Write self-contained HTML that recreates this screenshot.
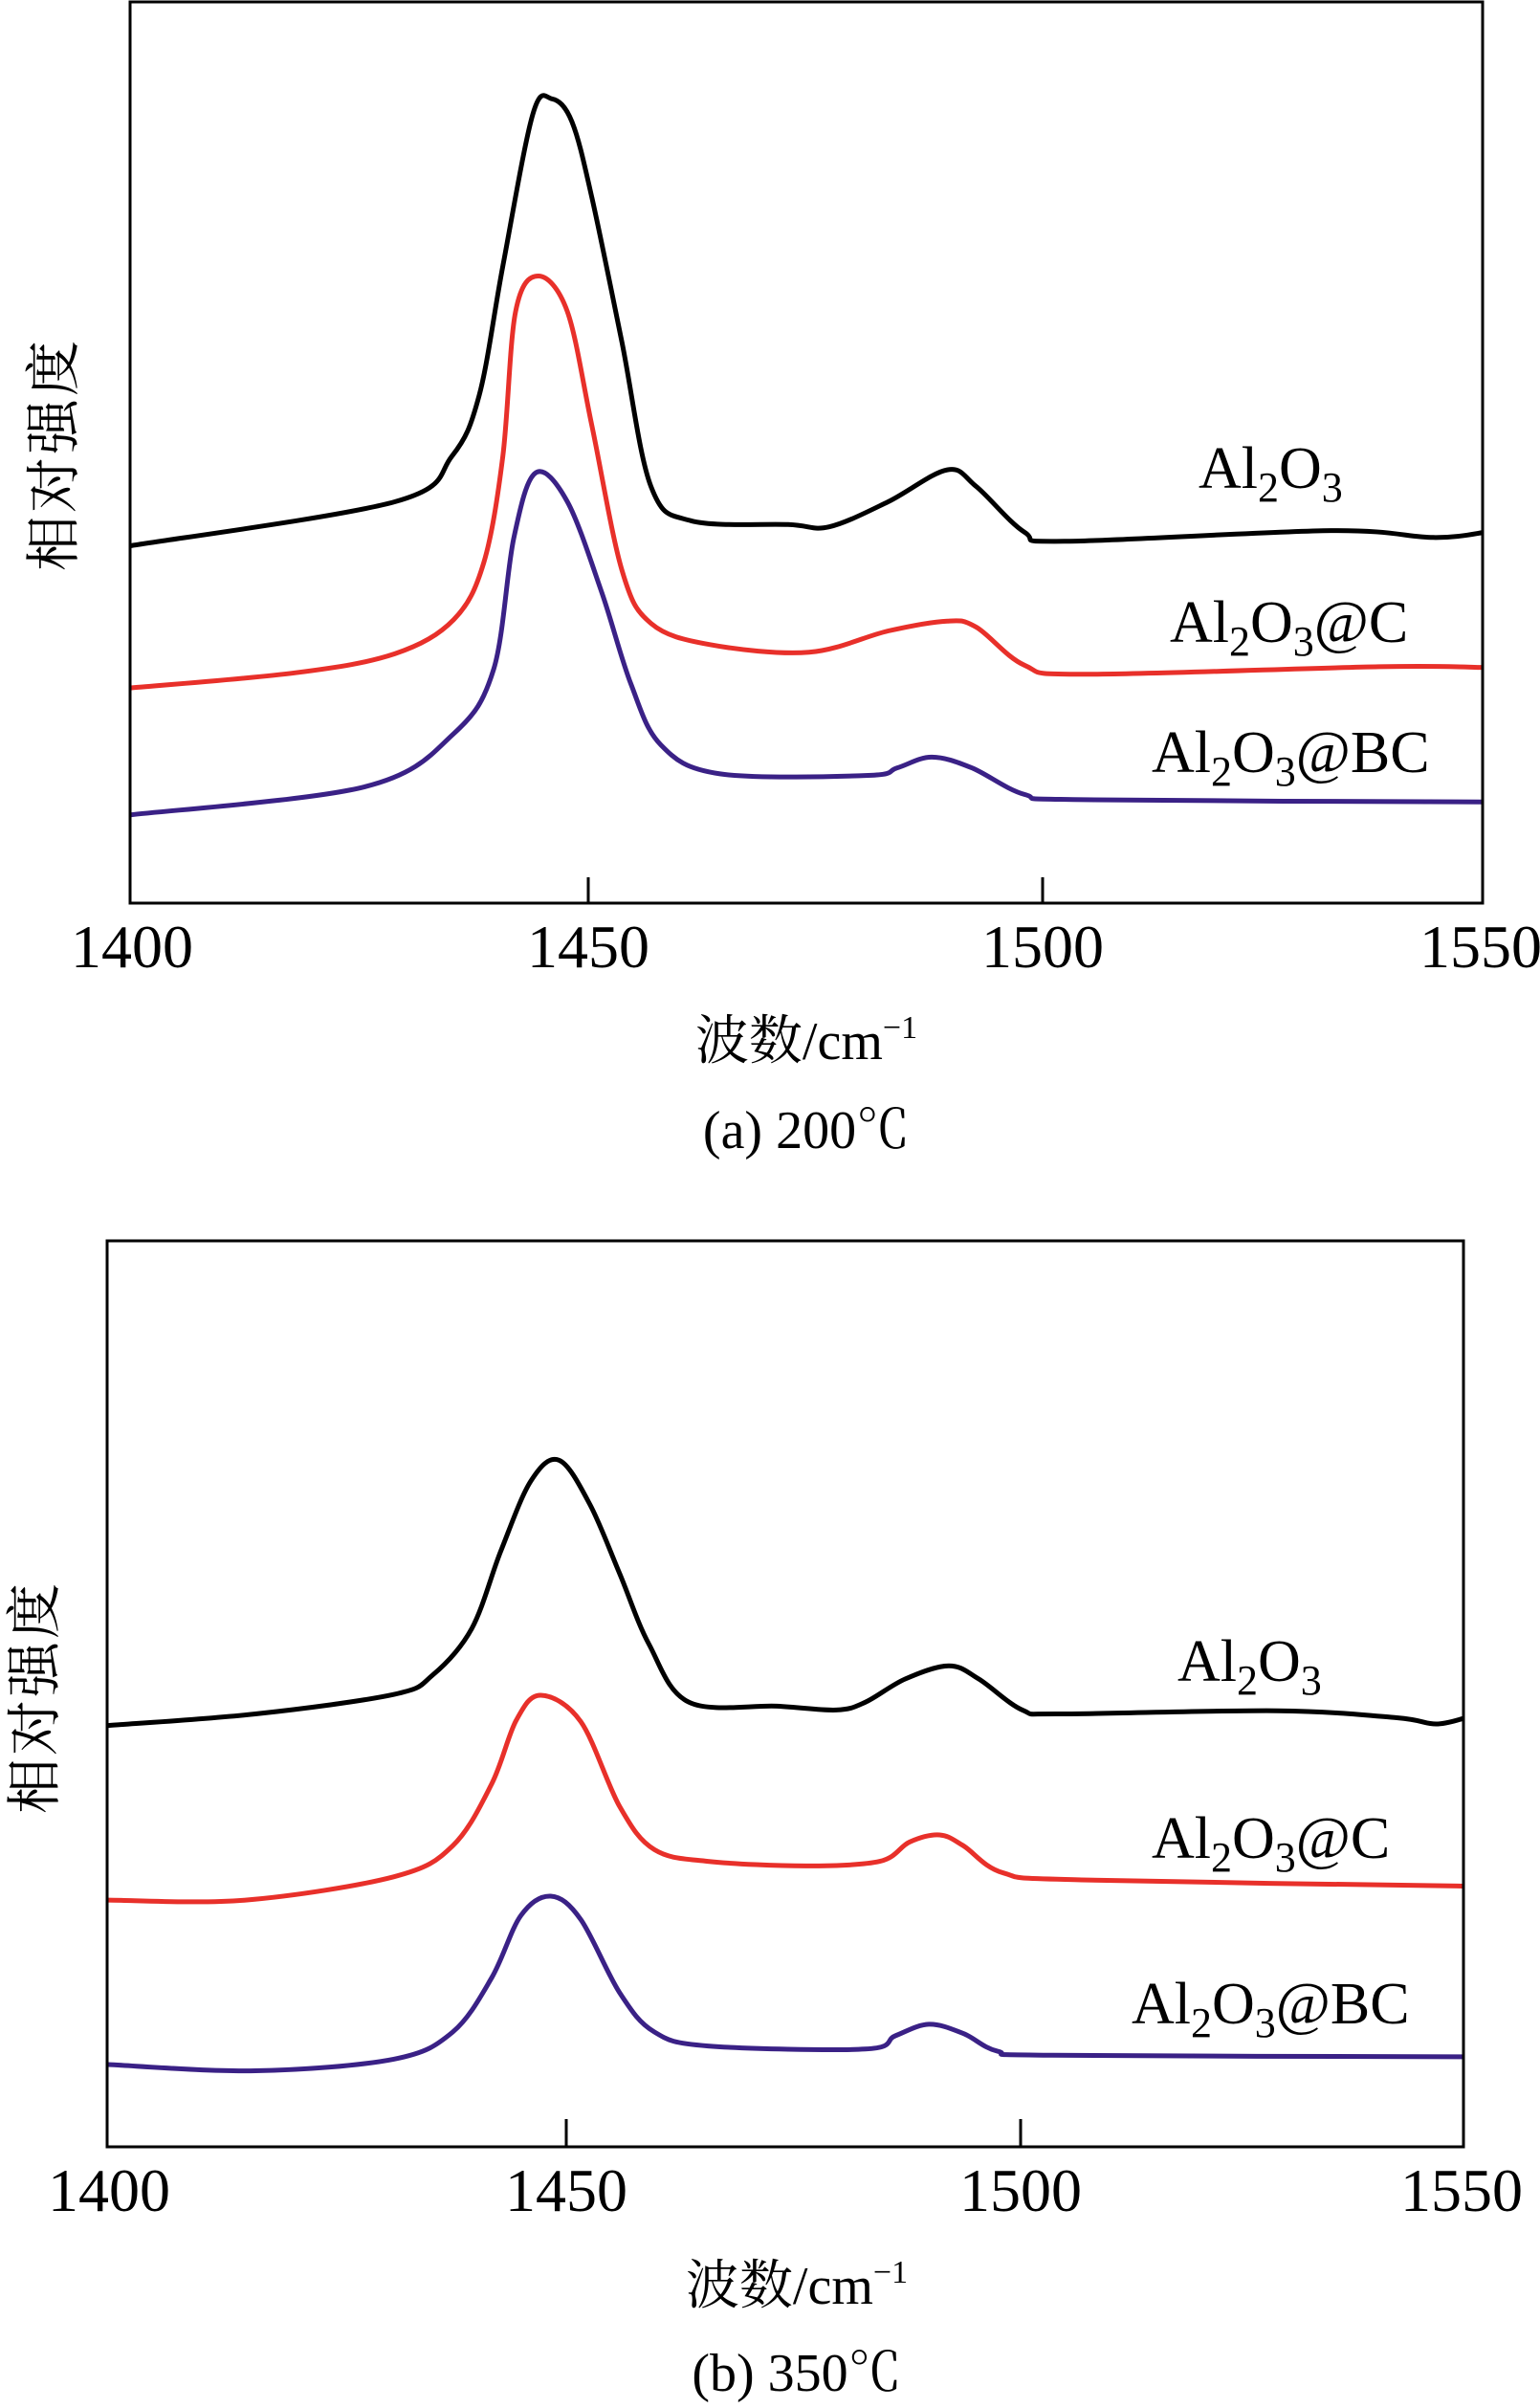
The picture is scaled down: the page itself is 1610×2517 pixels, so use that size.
<!DOCTYPE html>
<html><head><meta charset="utf-8"><style>
html,body{margin:0;padding:0;background:#fff}
svg{display:block}
text{font-family:"Liberation Serif","Noto Serif CJK SC",serif;fill:#000}
</style></head><body>
<svg id="fig" width="1610" height="2517" viewBox="0 0 1610 2517" xmlns="http://www.w3.org/2000/svg">
<g id="pa"></g>
<g id="pb"></g>
</svg>
<script>
// Panel (a) 200°C
const aBlackX=[1399.6,1428.7,1435,1438,1440.6,1443.9,1446,1448.2,1450.4,1453.7,1456.9,1461.3,1472,1476.5,1483,1489.5,1492.7,1498,1502.4,1531.7,1543,1548.8];
const aBlackY=[47,52.8,58.8,66.8,83.8,103.8,105.8,102.8,92.8,73.8,54.8,50.3,49.8,49.5,52.8,57,54.8,48.8,47.6,49,48.1,48.8];
const aRedX=[1399.6,1417.8,1428.7,1435.2,1438.5,1440.6,1442,1444.5,1447.7,1450.4,1453.7,1456.9,1463.4,1474.3,1483,1489.5,1492.7,1498,1504.6,1537,1548.8];
const aRedY=[28.3,30.3,32.8,37.3,44.8,58.8,77.8,82.5,77.8,62.8,43.8,36.8,34,33,35.8,37.1,36.3,31.3,30.1,31.1,31];
const aPurX=[1399.6,1425.4,1435.2,1439.6,1441.8,1444.2,1447.7,1451.5,1454.7,1458,1464.5,1480.8,1484,1487.8,1492.2,1498,1504.6,1548.8];
const aPurY=[11.6,15.3,22.3,30.8,48,56.6,52.8,40.8,28.8,20.8,17,16.8,17.8,19.2,17.8,14.3,13.6,13.3];
// Panel (b) 350°C
const bBlackX=[1399.6,1415.8,1431,1435.3,1439.6,1442.8,1446.1,1449.2,1452.6,1455.9,1459.1,1463.5,1473.2,1479.7,1482.9,1487.3,1492.1,1495.4,1500.2,1504.5,1528.3,1541.4,1545.7,1549];
const bBlackY=[54.3,55.8,58.3,60.8,66.8,76.8,85.8,88.5,82.8,73.8,64.8,57.3,56.8,56.3,57.3,60.3,62,60.3,56.3,55.8,56.2,55.3,54.5,55.3];
const bRedX=[1399.6,1414.7,1431,1437.5,1441.8,1444.5,1447.2,1451.6,1455.9,1459.7,1465.6,1476.4,1484.5,1487.8,1491.1,1493.7,1498.1,1506.7,1549];
const bRedY=[31.8,31.8,34.8,38.8,46.8,55,58.2,54.8,43.8,38.3,36.8,36.2,36.8,39.3,40.2,38.8,35.3,34.4,33.6];
const bPurX=[1399.6,1415.8,1431,1437.5,1441.8,1445,1448.3,1451.6,1455.9,1459.7,1465.6,1482.9,1486.2,1489.9,1493.7,1497.5,1503.5,1549];
const bPurY=[10.6,9.8,11.3,14.8,21.8,29.8,32.3,29.3,19.8,14.8,13,12.6,14.3,15.8,14.6,12.3,11.8,11.6];
const xTicks=[1400,1450,1500,1550];
const NS='http://www.w3.org/2000/svg';
function mk(parent,tag,attrs){const e=document.createElementNS(NS,tag);for(const k in attrs)e.setAttribute(k,attrs[k]);parent.appendChild(e);return e;}
function smooth(pts){let d='M'+pts[0][0].toFixed(1)+','+pts[0][1].toFixed(1);
 for(let i=0;i<pts.length-1;i++){const p0=pts[Math.max(0,i-1)],p1=pts[i],p2=pts[i+1],p3=pts[Math.min(pts.length-1,i+2)];
  const c1=[p1[0]+(p2[0]-p0[0])/6,p1[1]+(p2[1]-p0[1])/6],c2=[p2[0]-(p3[0]-p1[0])/6,p2[1]-(p3[1]-p1[1])/6];
  d+=' C'+c1[0].toFixed(1)+','+c1[1].toFixed(1)+' '+c2[0].toFixed(1)+','+c2[1].toFixed(1)+' '+p2[0].toFixed(1)+','+p2[1].toFixed(1);}
 return d;}
function panel(g,cfg){
 const x=v=>cfg.x0+(v-1450)*9.5, y=I=>cfg.bottom-I*cfg.ky;
 const cid='clip'+cfg.id;
 const cp=mk(g,'clipPath',{id:cid});mk(cp,'rect',{x:cfg.left,y:cfg.top,width:cfg.right-cfg.left,height:cfg.bottom-cfg.top});
 const series=[[cfg.s[0],cfg.s[1],'#000000','al2o3'],[cfg.s[2],cfg.s[3],'#e8302a','al2o3-c'],[cfg.s[4],cfg.s[5],'#3a2186','al2o3-bc']];
 series.forEach(s=>{const pts=s[0].map((v,i)=>[x(v),y(s[1][i])]);
  const p=mk(g,'path',{d:smooth(pts),fill:'none',stroke:s[2],'stroke-width':5,'stroke-linejoin':'round','stroke-linecap':'round','clip-path':'url(#'+cid+')'});
  
  });
 const box=mk(g,'rect',{x:cfg.left,y:cfg.top,width:cfg.right-cfg.left,height:cfg.bottom-cfg.top,fill:'none',stroke:'#000','stroke-width':3});
 
 
 xTicks.forEach(t=>{
  if(t>1400&&t<1550){const tk=mk(g,'line',{x1:x(t),x2:x(t),y1:cfg.bottom,y2:cfg.bottom-cfg.tick,stroke:'#000','stroke-width':3});
   
   }
  const lx=t===1400?cfg.left+2:(t===1550?cfg.right-2:x(t));
  const tl=mk(g,'text',{x:lx,y:cfg.bottom+67,'font-size':64,'text-anchor':'middle'});tl.textContent=t;
  
  });
 const xl=mk(g,'text',{x:cfg.cx,y:cfg.xlab,'font-size':56,'text-anchor':'middle'});
 xl.innerHTML='波数/cm<tspan dy="-22" font-size="34">−1</tspan>';
 
 
 const cap=mk(g,'text',{x:cfg.cx,y:cfg.cap,'font-size':56,'text-anchor':'middle'});cap.textContent=cfg.caption;
 
 
 const yl=mk(g,'text',{x:0,y:0,'font-size':58,'text-anchor':'middle','letter-spacing':3,transform:'translate('+cfg.ylx+','+cfg.yly+') rotate(-90)'});
 yl.textContent='相对强度';
 
 
 cfg.leg.forEach((L,i)=>{const t=mk(g,'text',{x:L[0],y:L[1],'font-size':62});
  t.innerHTML='Al<tspan dy="14" font-size="44">2</tspan><tspan dy="-14">O</tspan><tspan dy="14" font-size="44">3</tspan><tspan dy="-14">'+L[2]+'</tspan>';
  
  });
}
panel(document.getElementById('pa'),{id:'a',x0:615,left:136,right:1550,top:2,bottom:944,ky:7.946,tick:27,
 s:[aBlackX,aBlackY,aRedX,aRedY,aPurX,aPurY],cx:843,xlab:1107,cap:1200,caption:'(a) 200℃',ylx:76,yly:475,
 leg:[[1253,510,''],[1223,671,'@C'],[1204,807,'@BC']]});
panel(document.getElementById('pb'),{id:'b',x0:592,left:112,right:1530,top:1297,bottom:2244,ky:8.11,tick:29,
 s:[bBlackX,bBlackY,bRedX,bRedY,bPurX,bPurY],cx:833,xlab:2408,cap:2499,caption:'(b) 350℃',ylx:56,yly:1774,
 leg:[[1231,1757,''],[1204,1942,'@C'],[1183,2115,'@BC']]});
</script>
</body></html>
